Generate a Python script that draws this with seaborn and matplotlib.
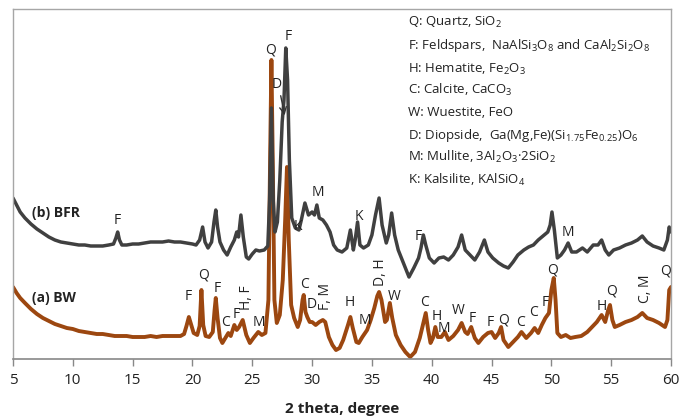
import matplotlib
matplotlib.use("Agg")
import matplotlib.pyplot as plt
import seaborn as sns
import pandas as pd

sns.set_theme(style="white")
plt.rcParams["font.family"] = ["Open Sans", "DejaVu Sans"]
plt.rcParams["mathtext.fontset"] = "custom"
plt.rcParams["mathtext.rm"] = "Open Sans"
plt.rcParams["mathtext.it"] = "Open Sans:italic"
plt.rcParams["mathtext.bf"] = "Open Sans:bold"

# ---- diffraction patterns: 2-theta (degree) and intensity (a.u., stacked) ----
bw_2theta = [5.0, 5.3, 5.6, 6.0, 6.5, 7.0, 7.5, 8.0, 8.5, 9.0, 9.5, 10.0, 10.5, 11.0,
             11.5, 12.0, 12.5, 13.0, 13.5, 14.0, 14.5, 15.0, 15.5, 16.0, 16.5, 17.0,
             17.5, 18.0, 18.5, 19.0, 19.3, 19.5, 19.7, 19.9, 20.1, 20.4, 20.6, 20.75,
             20.9, 21.1, 21.4, 21.7, 21.85, 21.95, 22.1, 22.3, 22.5, 22.8, 23.0, 23.2,
             23.5, 23.7, 23.9, 24.2, 24.5, 24.8, 25.1, 25.5, 25.8, 26.1, 26.35, 26.5,
             26.6, 26.7, 26.85, 27.05, 27.3, 27.55, 27.75, 27.9, 28.05, 28.25, 28.5,
             28.8, 29.0, 29.2, 29.3, 29.45, 29.6, 29.8, 30.0, 30.3, 30.6, 30.9, 31.1,
             31.4, 31.7, 32.0, 32.3, 32.6, 33.0, 33.2, 33.4, 33.7, 33.9, 34.2, 34.6,
             34.9, 35.2, 35.45, 35.6, 35.8, 36.1, 36.25, 36.5, 36.7, 37.0, 37.4, 37.8,
             38.2, 38.6, 39.0, 39.3, 39.5, 39.7, 39.9, 40.1, 40.3, 40.5, 40.8, 41.1,
             41.4, 41.8, 42.2, 42.5, 42.8, 43.0, 43.3, 43.6, 43.9, 44.3, 44.7, 45.0,
             45.3, 45.6, 45.8, 46.0, 46.4, 46.8, 47.2, 47.5, 47.9, 48.3, 48.6, 48.9,
             49.2, 49.5, 49.8, 50.0, 50.2, 50.35, 50.5, 50.8, 51.2, 51.6, 52.0, 52.5,
             53.0, 53.4, 53.8, 54.2, 54.5, 54.75, 54.9, 55.1, 55.3, 55.7, 56.2, 56.7,
             57.2, 57.6, 58.0, 58.5, 59.0, 59.5, 59.7, 59.85, 60.0]
bw_intensity = [72, 66, 61, 56, 50, 45, 41, 38, 35, 33, 31, 30, 28, 27,
                26, 25, 25, 24, 23, 23, 23, 22, 22, 22, 23, 22,
                23, 23, 23, 23, 25, 33, 42, 34, 26, 24, 33, 69,
                34, 23, 22, 27, 49, 61, 41, 21, 16, 22, 26, 23,
                34, 29, 32, 39, 24, 16, 21, 27, 24, 26, 59, 209,
                299, 209, 59, 36, 44, 79, 139, 192, 119, 54, 41,
                32, 39, 59, 64, 47, 42, 37, 37, 34, 37, 39, 37,
                22, 14, 9, 11, 19, 34, 42, 31, 17, 16, 22, 29,
                39, 51, 63, 67, 59, 37, 39, 56, 41, 24, 14, 7,
                2, 7, 21, 36, 46, 29, 16, 21, 32, 22, 22, 27,
                19, 23, 29, 36, 27, 25, 32, 21, 16, 22, 26, 27,
                21, 26, 32, 19, 12, 17, 22, 27, 21, 26, 31, 26,
                34, 41, 46, 69, 81, 59, 26, 22, 24, 21, 22, 23,
                27, 32, 37, 44, 37, 49, 54, 39, 32, 34, 37, 39,
                42, 46, 41, 39, 36, 32, 39, 69, 72]

bfr_2theta = [5.0, 5.3, 5.6, 6.0, 6.5, 7.0, 7.5, 8.0, 8.5, 9.0, 9.5, 10.0, 10.5, 11.0,
              11.5, 12.0, 12.5, 13.0, 13.4, 13.6, 13.75, 13.9, 14.1, 14.5, 15.0, 15.5,
              16.0, 16.5, 17.0, 17.5, 18.0, 18.5, 19.0, 19.5, 20.0, 20.3, 20.6, 20.85,
              21.05, 21.3, 21.6, 21.8, 21.95, 22.1, 22.3, 22.6, 22.9, 23.2, 23.5, 23.7,
              23.85, 24.05, 24.25, 24.5, 24.7, 25.0, 25.3, 25.6, 26.0, 26.3, 26.45, 26.6,
              26.75, 26.9, 27.1, 27.3, 27.5, 27.65, 27.8, 27.95, 28.1, 28.3, 28.6, 28.9,
              29.1, 29.4, 29.7, 30.0, 30.2, 30.4, 30.6, 30.9, 31.2, 31.5, 31.8, 32.1,
              32.5, 32.9, 33.2, 33.45, 33.6, 33.8, 34.0, 34.3, 34.7, 35.0, 35.3, 35.6,
              35.85, 36.2, 36.4, 36.65, 36.9, 37.2, 37.6, 38.1, 38.5, 38.9, 39.1, 39.3,
              39.5, 39.8, 40.2, 40.6, 41.0, 41.4, 41.8, 42.2, 42.5, 42.8, 43.2, 43.6,
              44.0, 44.4, 44.7, 45.1, 45.6, 46.0, 46.4, 46.8, 47.2, 47.7, 48.1, 48.5,
              48.9, 49.3, 49.7, 49.9, 50.05, 50.25, 50.5, 50.8, 51.1, 51.4, 51.7, 52.1,
              52.6, 53.0, 53.5, 53.9, 54.2, 54.5, 54.8, 55.2, 55.7, 56.2, 56.7, 57.2,
              57.6, 58.0, 58.5, 59.0, 59.4, 59.7, 59.85, 60.0]
bfr_intensity = [161, 154, 147, 141, 135, 130, 126, 122, 119, 117, 116, 115, 114, 114,
                 113, 113, 113, 114, 115, 121, 127, 119, 114, 114, 115, 115,
                 116, 117, 117, 117, 118, 117, 117, 116, 115, 114, 119, 132,
                 117, 111, 117, 137, 149, 132, 117, 109, 104, 112, 119, 127,
                 122, 144, 122, 102, 100, 105, 109, 108, 109, 113, 159, 251,
                 159, 127, 137, 179, 237, 259, 311, 279, 199, 141, 131, 129,
                 139, 156, 144, 147, 144, 154, 141, 139, 134, 127, 114, 109,
                 107, 111, 129, 109, 119, 137, 114, 111, 114, 124, 144, 161,
                 134, 116, 124, 146, 124, 109, 97, 82, 91, 101, 111, 124,
                 114, 101, 96, 101, 102, 99, 104, 112, 124, 109, 104, 99,
                 107, 119, 107, 101, 96, 93, 91, 97, 104, 109, 112, 114,
                 119, 123, 127, 134, 147, 129, 101, 104, 109, 116, 107, 107,
                 111, 107, 114, 114, 119, 109, 104, 109, 111, 114, 116, 119,
                 123, 117, 113, 111, 109, 119, 132, 127]

# ---- phase labels: (text, 2-theta, height, rotated) ----
bfr_labels = [("F", 13.73, 138, False), ("K", 28.85, 133, False), ("M", 30.52, 166, False),
              ("K", 33.88, 143, False), ("F", 38.84, 122, False), ("M", 51.35, 126, False),
              ("F", 28.0, 322, False), ("D", 27.08, 275, False)]
bw_labels = [("Q", 26.5, 309, False), ("F", 19.69, 62, False), ("Q", 20.95, 84, False),
             ("F", 22.04, 70, False), ("C", 22.8, 37, False), ("F", 23.64, 45, False),
             ("H, F", 24.48, 61, True), ("M", 25.57, 36, False), ("C", 29.35, 74, False),
             ("D", 30.0, 54, False), ("F, M", 31.1, 62, True), ("H", 33.13, 57, False),
             ("M", 34.39, 38, False), ("D, H", 35.73, 87, True), ("W", 36.9, 62, False),
             ("C", 39.42, 57, False), ("H", 40.45, 43, False), ("M", 41.05, 31, False),
             ("W", 42.2, 49, False), ("F", 43.37, 41, False), ("F", 44.88, 37, False),
             ("Q", 45.97, 39, False), ("C", 47.4, 37, False), ("C", 48.49, 46, False),
             ("F", 49.5, 57, False), ("Q", 50.09, 89, False), ("H", 54.2, 53, False),
             ("Q", 55.04, 68, False), ("C, M", 57.9, 70, True), ("Q", 59.58, 88, False)]

phase_key = [r"Q: Quartz, SiO$_{2}$",
             r"F: Feldspars,  NaAlSi$_{3}$O$_{8}$ and CaAl$_{2}$Si$_{2}$O$_{8}$",
             r"H: Hematite, Fe$_{2}$O$_{3}$",
             r"C: Calcite, CaCO$_{3}$",
             r"W: Wuestite, FeO",
             r"D: Diopside,  Ga(Mg,Fe)(Si$_{1.75}$Fe$_{0.25}$)O$_{6}$",
             r"M: Mullite, 3Al$_{2}$O$_{3}$·2SiO$_{2}$",
             r"K: Kalsilite, KAlSiO$_{4}$"]

xticks = [5, 10, 15, 20, 25, 30, 35, 40, 45, 50, 55, 60]

BW_COLOR = "#9C4710"
BFR_COLOR = "#404040"

W, H = 681, 418
fig = plt.figure(figsize=(W / 100, H / 100), dpi=100)
ax = fig.add_axes([13 / W, 1 - 359 / H, (671 - 13) / W, (359 - 9) / H])

bw = pd.DataFrame({"two_theta": bw_2theta, "intensity": bw_intensity})
bfr = pd.DataFrame({"two_theta": bfr_2theta, "intensity": bfr_intensity})
sns.lineplot(data=bw, x="two_theta", y="intensity", ax=ax, color=BW_COLOR,
             lw=2.8, estimator=None, sort=False)
sns.lineplot(data=bfr, x="two_theta", y="intensity", ax=ax, color=BFR_COLOR,
             lw=2.5, estimator=None, sort=False)

ax.set_xlim(5, 60)
ax.set_ylim(0, 350)
ax.set_xticks(xticks)
ax.set_xticklabels([str(t) for t in xticks], fontsize=11, color="#222222")
ax.set_yticks([])
ax.set_xlabel("2 theta, degree", fontsize=11, fontweight="bold", color="#222222",
              labelpad=10)
ax.set_ylabel("")
ax.tick_params(axis="x", direction="out", length=5, width=1, color="#888888", pad=5,
               bottom=True)
for side in ("top", "right", "left"):
    ax.spines[side].set_color("#A6A6A6")
    ax.spines[side].set_linewidth(1.0)
ax.spines["bottom"].set_color("#888888")
ax.spines["bottom"].set_linewidth(1.2)

for text, x, y, rot in bfr_labels + bw_labels:
    ax.text(x, y, text, ha="center", va="center", fontsize=10, color="#222222",
            rotation=90 if rot else 0)

ax.annotate("", xy=(27.75, 241), xytext=(27.33, 266),
            arrowprops=dict(arrowstyle="->", color="#333333", lw=1.0))

ax.text(6.6, 146, "(b) BFR", fontsize=10, fontweight="bold", color="#222222",
        ha="left", va="center")
ax.text(6.6, 61, "(a) BW", fontsize=10, fontweight="bold", color="#222222",
        ha="left", va="center")

key_y = [22, 46, 69, 90, 112, 135, 157, 180]
for line, yp in zip(phase_key, key_y):
    fig.text(408 / W, 1 - yp / H, line, fontsize=9.5, color="#222222",
             ha="left", va="center")

fig.savefig("out.png", dpi=100)
